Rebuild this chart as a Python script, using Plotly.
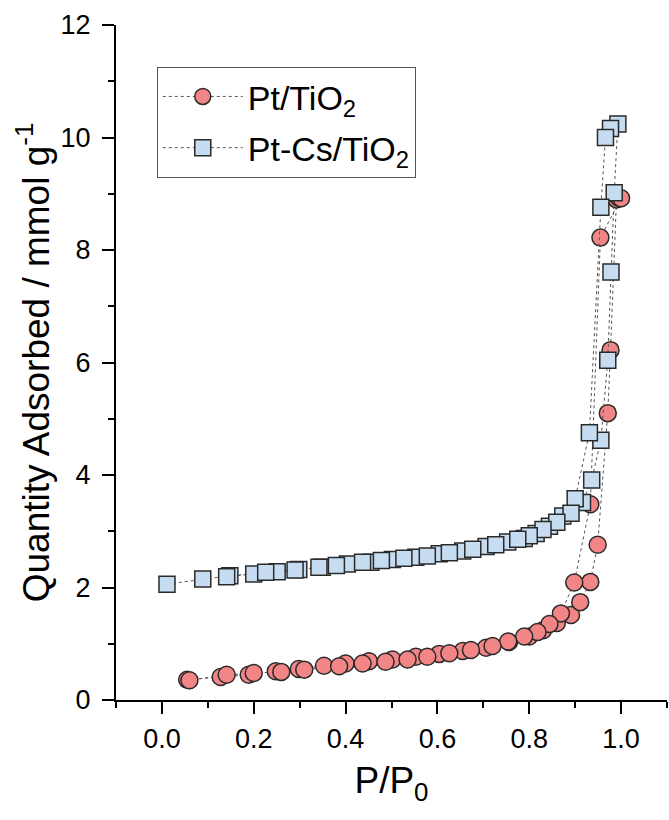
import plotly.graph_objects as go

# Pt/TiO2 : adsorption branch then desorption branch
pt_ads_x = [0.055, 0.128, 0.189, 0.248, 0.298, 0.353, 0.400, 0.451, 0.502, 0.553, 0.604, 0.655,
            0.706, 0.756, 0.800, 0.830, 0.860, 0.891, 0.911, 0.933, 0.949, 0.971, 0.977, 0.990, 0.995]
pt_ads_y = [0.36, 0.41, 0.45, 0.51, 0.55, 0.61, 0.65, 0.69, 0.72, 0.77, 0.82, 0.87,
            0.93, 1.03, 1.13, 1.24, 1.37, 1.51, 1.74, 2.10, 2.76, 5.10, 6.22, 8.90, 8.93]
pt_des_x = [1.000, 0.955, 0.933, 0.898, 0.869, 0.844, 0.818, 0.789, 0.754, 0.720, 0.673, 0.626,
            0.578, 0.535, 0.487, 0.437, 0.386, 0.310, 0.260, 0.200, 0.141, 0.060]
pt_des_y = [8.92, 8.22, 3.48, 2.09, 1.54, 1.35, 1.21, 1.13, 1.04, 0.96, 0.89, 0.83,
            0.77, 0.72, 0.68, 0.65, 0.60, 0.54, 0.50, 0.48, 0.45, 0.35]

# Pt-Cs/TiO2 : adsorption branch then desorption branch
cs_ads_x = [0.011, 0.089, 0.148, 0.200, 0.251, 0.298, 0.349, 0.404, 0.455, 0.502, 0.553, 0.604,
            0.655, 0.706, 0.753, 0.789, 0.815, 0.844, 0.873, 0.916, 0.936, 0.956, 0.971, 0.978,
            0.985, 0.993]
cs_ads_y = [2.06, 2.15, 2.21, 2.24, 2.28, 2.32, 2.36, 2.42, 2.45, 2.50, 2.54, 2.60,
            2.65, 2.73, 2.81, 2.87, 2.96, 3.09, 3.27, 3.51, 3.91, 4.62, 6.04, 7.61,
            9.02, 10.24]
cs_des_x = [0.977, 0.966, 0.956, 0.931, 0.900, 0.891, 0.860, 0.830, 0.800, 0.775, 0.727, 0.677,
            0.626, 0.578, 0.527, 0.478, 0.437, 0.380, 0.342, 0.290, 0.226, 0.141]
cs_des_y = [10.16, 10.00, 8.76, 4.75, 3.58, 3.32, 3.16, 3.03, 2.92, 2.86, 2.76, 2.68,
            2.62, 2.56, 2.52, 2.48, 2.45, 2.39, 2.36, 2.31, 2.27, 2.19]

x_ticks = [0.0, 0.2, 0.4, 0.6, 0.8, 1.0]
x_ticklabels = ["0.0", "0.2", "0.4", "0.6", "0.8", "1.0"]
y_ticks = [0, 2, 4, 6, 8, 10, 12]

FONT = "Arial, 'Liberation Sans', sans-serif"
LINE = dict(color="#555555", width=1, dash="3px,3px")

fig = go.Figure()
fig.add_trace(go.Scatter(
    x=pt_ads_x + pt_des_x, y=pt_ads_y + pt_des_y,
    mode="lines+markers", name="Pt/TiO<sub>2</sub>", legendgroup="pt",
    line=LINE,
    marker=dict(symbol="circle", size=17, color="#F28686",
                line=dict(color="#2a2a2a", width=1.5)),
))
fig.add_trace(go.Scatter(
    x=cs_ads_x + cs_des_x, y=cs_ads_y + cs_des_y,
    mode="lines+markers", name="Pt-Cs/TiO<sub>2</sub>", legendgroup="cs",
    line=LINE,
    marker=dict(symbol="square", size=16, color="#C6DCF0",
                line=dict(color="#2a2a2a", width=1.5)),
))

axis_common = dict(
    showline=True, linecolor="black", linewidth=2,
    ticks="outside", ticklen=12, tickwidth=2, tickcolor="black",
    showgrid=False, zeroline=False, mirror=False,
    tickfont=dict(family=FONT, size=27, color="black"),
)

fig.update_xaxes(
    range=[-0.1, 1.1], tickvals=x_ticks, ticktext=x_ticklabels,
    minor=dict(dtick=0.1, tick0=0, ticklen=6, tickwidth=2, tickcolor="black", ticks="outside"),
    title=dict(text="P/P<sub>0</sub>", font=dict(family=FONT, size=37, color="black"), standoff=14),
    ticklabelstandoff=2,
    **axis_common,
)
fig.update_yaxes(
    range=[0, 12], tickvals=y_ticks,
    minor=dict(dtick=1, tick0=0, ticklen=6, tickwidth=2, tickcolor="black", ticks="outside"),
    title=dict(text="Quantity Adsorbed / mmol g<sup>-1</sup>",
               font=dict(family=FONT, size=37, color="black"), standoff=0),
    ticklabelstandoff=6,
    **axis_common,
)

fig.update_layout(
    width=669, height=820,
    margin=dict(l=116, r=2, t=25, b=120),
    paper_bgcolor="white", plot_bgcolor="white",
    showlegend=True,
    legend=dict(
        x=0.074, y=0.938, xanchor="left", yanchor="top",
        bordercolor="#555555", borderwidth=1, bgcolor="white",
        font=dict(family=FONT, size=34, color="black"),
        itemwidth=80, tracegroupgap=4,
    ),
)

fig.write_html("out.html")
